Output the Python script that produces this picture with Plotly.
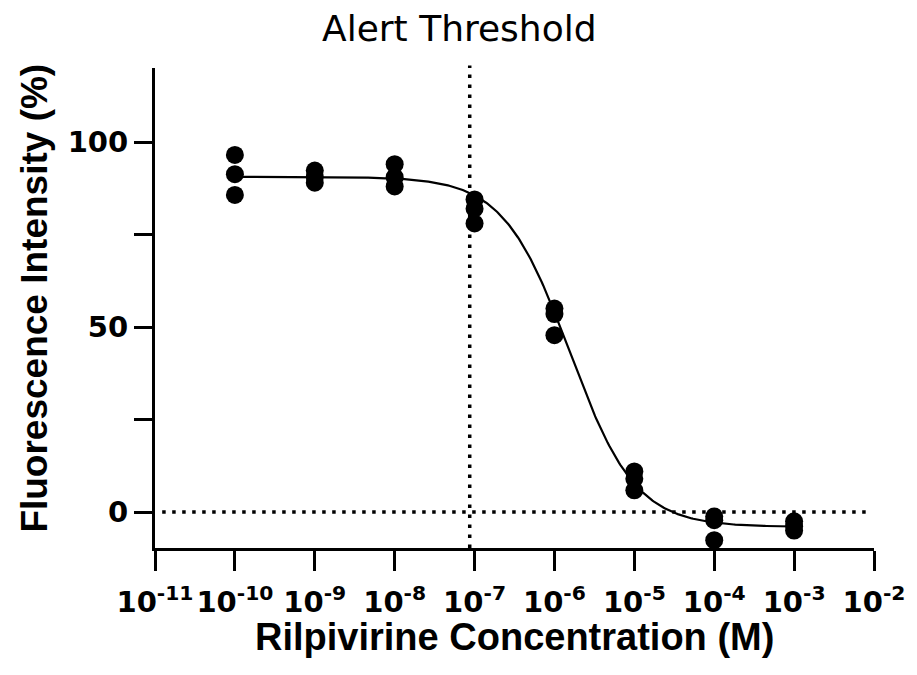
import numpy as np
import plotly.graph_objects as go

# ---- data ----
concentrations_M = [1e-10, 1e-9, 1e-8, 1e-7, 1e-6, 1e-5, 1e-4, 1e-3]
rep1 = [96.5, 92.3, 94.0, 84.5, 55.0, 11.0, -1.2, -2.5]
rep2 = [91.3, 90.5, 90.5, 82.0, 53.5, 9.0, -2.2, -3.8]
rep3 = [85.7, 89.0, 88.0, 78.0, 47.8, 5.9, -7.6, -5.0]

# four-parameter logistic fit
fit_top = 90.6
fit_bottom = -4.0
fit_log_ic50 = -5.81
fit_hill = 1.05

alert_threshold_M = 8.7e-8

x_tick_exponents = [-11, -10, -9, -8, -7, -6, -5, -4, -3, -2]
y_tick_values = [0, 25, 50, 75, 100]
y_tick_labels = ["0", "", "50", "", "100"]

title_text = "Alert Threshold"
x_title = "Rilpivirine Concentration (M)"
y_title = "Fluorescence Intensity (%)"

# ---- build ----
xs, ys = [], []
for i, c in enumerate(concentrations_M):
    for rep in (rep1, rep2, rep3):
        xs.append(c)
        ys.append(rep[i])

logx = np.linspace(np.log10(concentrations_M[0]), np.log10(concentrations_M[-1]), 400)
curve_x = 10 ** logx
curve_y = fit_bottom + (fit_top - fit_bottom) / (1 + 10 ** ((logx - fit_log_ic50) * fit_hill))

fig = go.Figure()
fig.add_trace(go.Scatter(x=curve_x, y=curve_y, mode="lines",
                         line=dict(color="black", width=2.2), hoverinfo="skip"))
fig.add_trace(go.Scatter(x=xs, y=ys, mode="markers",
                         marker=dict(color="black", size=18, line=dict(width=0))))

dot = dict(color="black", width=3.5, dash="3.5px,6.5px")
fig.add_shape(type="line", xref="x", yref="paper",
              x0=alert_threshold_M, x1=alert_threshold_M, y0=0, y1=1.005, line=dot)
fig.add_shape(type="line", xref="paper", yref="y",
              x0=0.01, x1=0.99, y0=0, y1=0, line=dot)

tick_font = dict(family="DejaVu Sans", size=29, color="black", weight="bold")

fig.update_xaxes(
    type="log", range=[-11, -2],
    tickvals=[10.0 ** e for e in x_tick_exponents],
    ticktext=[f"10<sup>{e}</sup>" for e in x_tick_exponents],
    ticks="outside", ticklen=20, tickwidth=3, tickcolor="black",
    showline=True, linecolor="black", linewidth=3,
    showgrid=False, zeroline=False, tickfont=tick_font,
    ticklabelstandoff=6,
)
fig.update_yaxes(
    range=[-9.7, 120],
    tickvals=y_tick_values, ticktext=y_tick_labels,
    ticks="outside", ticklen=18, tickwidth=3, tickcolor="black",
    showline=True, linecolor="black", linewidth=3,
    showgrid=False, zeroline=False, tickfont=tick_font,
)

fig.add_annotation(text=title_text, xref="paper", yref="paper",
                   x=0.424, y=1.082, xanchor="center", yanchor="middle",
                   showarrow=False,
                   font=dict(family="DejaVu Sans", size=36, color="black"))
fig.add_annotation(text=x_title, xref="paper", yref="paper",
                   x=0.5, y=-0.185, xanchor="center", yanchor="middle",
                   showarrow=False,
                   font=dict(family="Liberation Sans, Arial", size=38, color="black",
                             weight="bold"))
fig.add_annotation(text=y_title, xref="paper", yref="paper",
                   x=-0.168, y=0.52, xanchor="center", yanchor="middle",
                   textangle=-90, showarrow=False,
                   font=dict(family="Liberation Sans, Arial", size=37, color="black",
                             weight="bold"))

fig.update_layout(
    width=917, height=675,
    margin=dict(l=155, r=36, t=68, b=127),
    paper_bgcolor="white", plot_bgcolor="white",
    showlegend=False,
)

fig.write_html("out.html")
